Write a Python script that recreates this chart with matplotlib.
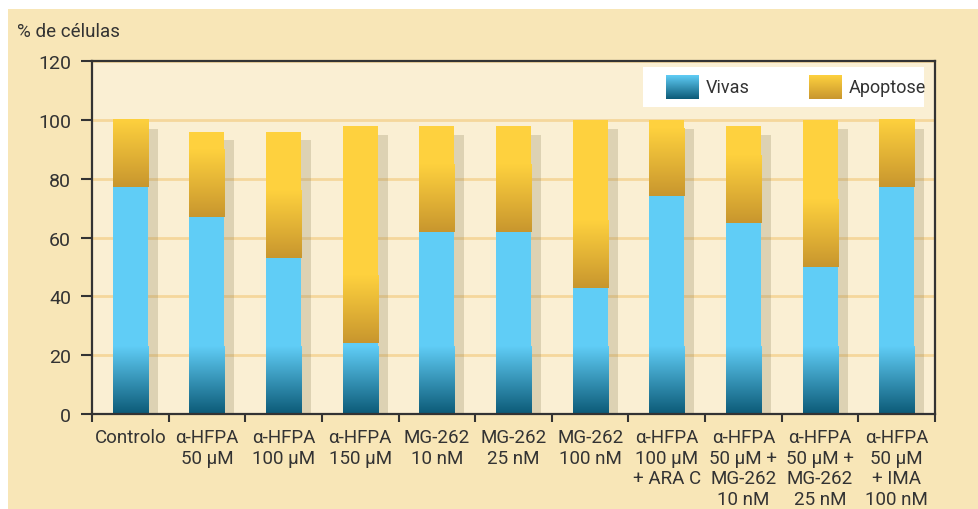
import numpy as np
import matplotlib
matplotlib.use("Agg")
import matplotlib.pyplot as plt
from matplotlib.colors import LinearSegmentedColormap
from matplotlib.patches import Rectangle

plt.rcParams['font.family'] = ['Roboto', 'DejaVu Sans']

# dados
labels = ["Controlo", "α-HFPA\n50 µM", "α-HFPA\n100 µM", "α-HFPA\n150 µM",
          "MG-262\n10 nM", "MG-262\n25 nM", "MG-262\n100 nM",
          "α-HFPA\n100 µM\n+ ARA C", "α-HFPA\n50 µM +\nMG-262\n10 nM",
          "α-HFPA\n50 µM +\nMG-262\n25 nM", "α-HFPA\n50 µM\n+ IMA\n100 nM"]
vivas = [77, 67, 53, 24, 62, 62, 43, 74, 65, 50, 77]
apoptose = [23, 29, 43, 74, 36, 36, 57, 26, 33, 50, 23]

BLUE_LIGHT = "#60cdf6"
BLUE_DARK = "#0c5a77"
GOLD_LIGHT = "#fed13e"
GOLD_DARK = "#c8962e"
TXT = "#333333"
cmap_blue = LinearSegmentedColormap.from_list("vivas", [BLUE_DARK, BLUE_LIGHT])
cmap_gold = LinearSegmentedColormap.from_list("apop", [GOLD_DARK, GOLD_LIGHT])
grad = np.linspace(0, 1, 256).reshape(-1, 1)
GRAD_H = 23      # altura do degradê na base de cada segmento
BAR_W = 0.457
SH_W = 0.13
SH_DROP = 3

fig = plt.figure(figsize=(9.79, 5.10), dpi=100, facecolor="white")
fig.add_artist(Rectangle((8 / 979, 0), 1, 1 - 10 / 510, transform=fig.transFigure,
                         facecolor="#f8e6b7", edgecolor="none", zorder=-10))
ax = fig.add_axes([92 / 979, 95 / 510, 843 / 979, 353 / 510])
ax.set_facecolor("#faefd3")

x = np.arange(len(labels))
tot = np.array(vivas) + np.array(apoptose)

for i in x:
    v, a = vivas[i], apoptose[i]
    x0 = i - BAR_W / 2
    # sombra
    ax.bar(x0 + BAR_W, tot[i] - SH_DROP, width=SH_W, align="edge",
           color="#8c7f5a", alpha=0.26, zorder=1, linewidth=0)
    ax.bar(i, v, width=BAR_W, color=BLUE_LIGHT, zorder=2, linewidth=0)
    ax.bar(i, a, bottom=v, width=BAR_W, color=GOLD_LIGHT, zorder=2, linewidth=0)
    ax.imshow(grad, cmap=cmap_blue, origin="lower", aspect="auto", zorder=2.5,
              extent=(x0, x0 + BAR_W, 0, min(GRAD_H, v)), interpolation="bilinear")
    ax.imshow(grad, cmap=cmap_gold, origin="lower", aspect="auto", zorder=2.5,
              extent=(x0, x0 + BAR_W, v, v + min(GRAD_H, a)), interpolation="bilinear")

ax.set_xlim(-0.5, len(labels) - 0.5)
ax.set_ylim(0, 120)
ax.set_yticks(range(0, 121, 20))
ax.yaxis.grid(True, color="#f5d79c", linewidth=2, zorder=0.5)
ax.set_axisbelow(True)

ax.set_xticks(np.arange(len(labels) + 1) - 0.5)
ax.set_xticklabels([])
ax.set_xticks(x, minor=True)
ax.set_xticklabels(labels, minor=True, fontsize=13.5, color=TXT, linespacing=1.2)
ax.tick_params(axis="x", which="major", length=6, width=1.5, color="#333333", direction="out")
ax.tick_params(axis="x", which="minor", length=0, pad=10)
ax.tick_params(axis="y", length=8, width=1.5, color="#333333", pad=7, labelsize=14,
               labelcolor=TXT)
for s in ax.spines.values():
    s.set_color("#333333")
    s.set_linewidth(1.6)

fig.text(17 / 979, 1 - 32 / 510, "% de células", fontsize=13.5, color=TXT,
         va="center", ha="left")

# legenda
ax.add_patch(Rectangle((0.654, 0.870), 0.333, 0.113, transform=ax.transAxes,
                       facecolor="white", edgecolor="none", zorder=5))
for cm, xl, name in [(cmap_blue, 0.681, "Vivas"), (cmap_gold, 0.851, "Apoptose")]:
    ax.imshow(grad, cmap=cm, origin="lower", aspect="auto", zorder=6,
              extent=(xl, xl + 0.038, 0.892, 0.958), transform=ax.transAxes)
    ax.text(xl + 0.047, 0.925, name, transform=ax.transAxes, fontsize=13,
            color=TXT, va="center", ha="left", zorder=6)

ax.set_xlim(-0.5, len(labels) - 0.5)
ax.set_ylim(0, 120)
fig.savefig("out.png", dpi=100, facecolor=fig.get_facecolor())
